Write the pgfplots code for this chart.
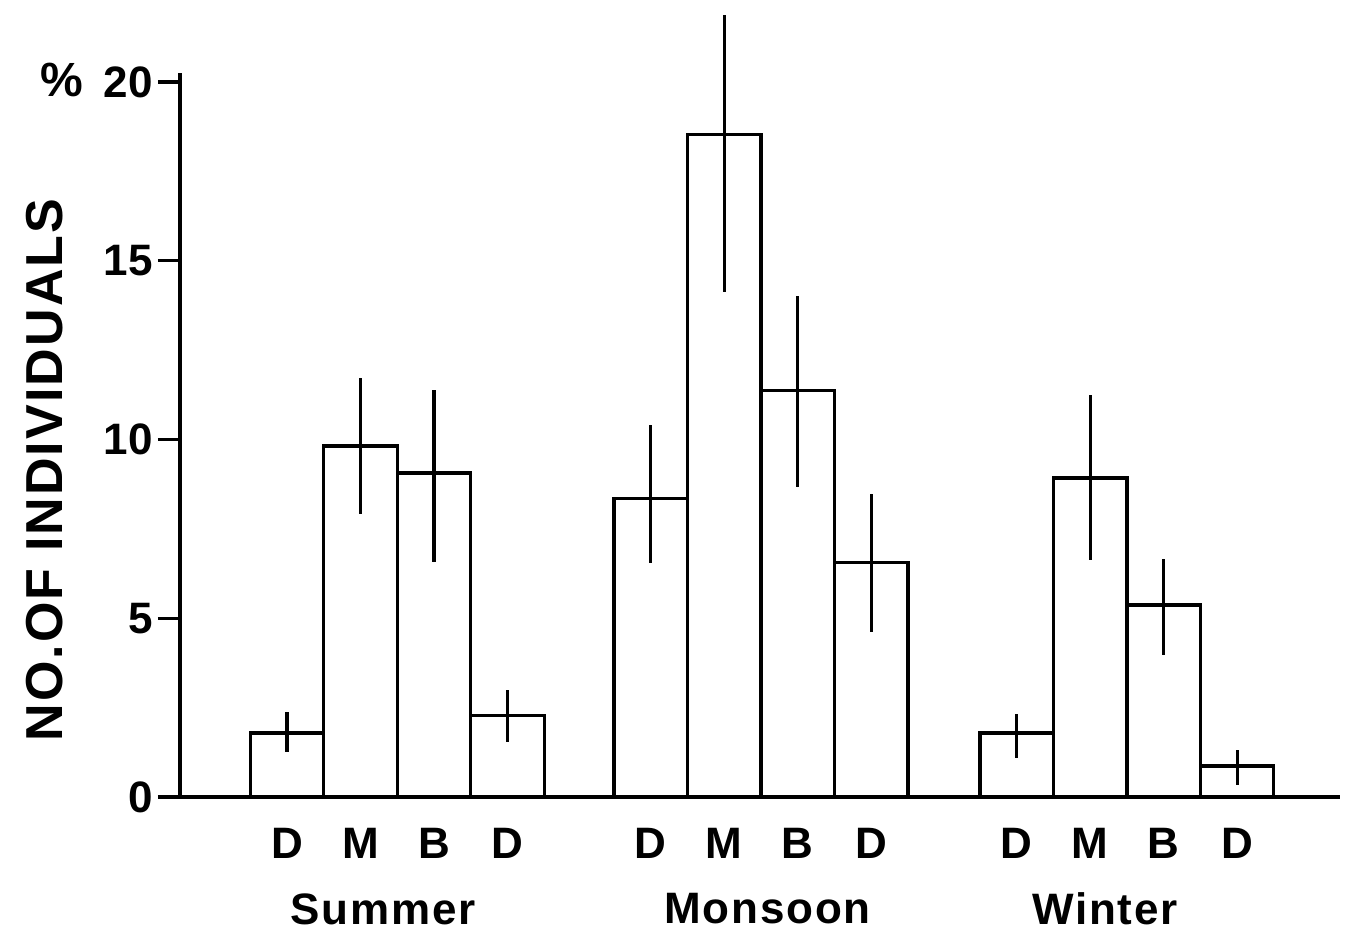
\documentclass[border=0pt]{standalone}
\usepackage{pgfplots}
\pgfplotsset{compat=1.18}
\usepackage{fontspec}
\setmainfont{Liberation Sans}
\newfontfamily\widefont[LetterSpace=4]{Liberation Sans}
\begin{document}
\begin{tikzpicture}
\useasboundingbox (-90pt,-68pt) rectangle (587.5pt,398.5pt);
\begin{axis}[
  scale only axis,width=580pt,height=362pt,
  xmin=-1.456,xmax=14.33,ymin=0,ymax=20.25,
  axis lines=left,axis line style={-,line width=1.8pt},
  clip=false,
  ybar,bar width=1,bar shift=0pt,
  ytick={0,5,10,15,20},
  tick align=outside,major tick length=11pt,
  ytick style={line width=1.6pt,black},
  xtick style={draw=none},
  /pgf/number format/assume math mode=true,
  yticklabel style={font=\fontsize{22}{26}\selectfont\bfseries,xshift=1pt},
  xtick={0,1,2,3,4.95,5.95,6.95,7.95,9.93,10.93,11.93,12.93},
  xticklabels={D,M,B,D,D,M,B,D,D,M,B,D},
  xticklabel style={font=\fontsize{22}{26}\selectfont\bfseries,yshift=-1pt},
  error bars/y dir=both,error bars/y explicit,
  error bars/error mark=none,
  error bars/error bar style={line width=1.6pt,black},
]
\addplot[draw=black,fill=white,line width=1.6pt]
coordinates {
 (0,1.79) += (0,0.59) -= (0,0.53)
 (1,9.82) += (0,1.90) -= (0,1.90)
 (2,9.06) += (0,2.32) -= (0,2.49)
 (3,2.29) += (0,0.70) -= (0,0.75)
 (4.95,8.36) += (0,2.05) -= (0,1.81)
 (5.95,18.52) += (0,3.35) -= (0,4.39)
 (6.95,11.38) += (0,2.63) -= (0,2.71)
 (7.95,6.55) += (0,1.93) -= (0,1.93)
 (9.93,1.79) += (0,0.53) -= (0,0.70)
 (10.93,8.92) += (0,2.32) -= (0,2.29)
 (11.93,5.37) += (0,1.29) -= (0,1.40)
 (12.93,0.87) += (0,0.44) -= (0,0.53)
};
\node[font=\fontsize{22}{26}\selectfont\widefont\bfseries,inner sep=0pt] at (axis cs:1.31,0) [yshift=-56pt] {Summer};
\node[font=\fontsize{22}{26}\selectfont\widefont\bfseries,inner sep=0pt] at (axis cs:6.54,0) [yshift=-56pt] {Monsoon};
\node[font=\fontsize{22}{26}\selectfont\widefont\bfseries,inner sep=0pt] at (axis cs:11.13,0) [yshift=-56pt] {Winter};
\end{axis}
\node[font=\fontsize{24}{26}\selectfont\bfseries] at (-59pt,358.5pt) {\%};
\node[font=\fontsize{26}{30}\selectfont\widefont\bfseries,rotate=90] at (-67.5pt,163.5pt) {NO.OF INDIVIDUALS};
\end{tikzpicture}
\end{document}
